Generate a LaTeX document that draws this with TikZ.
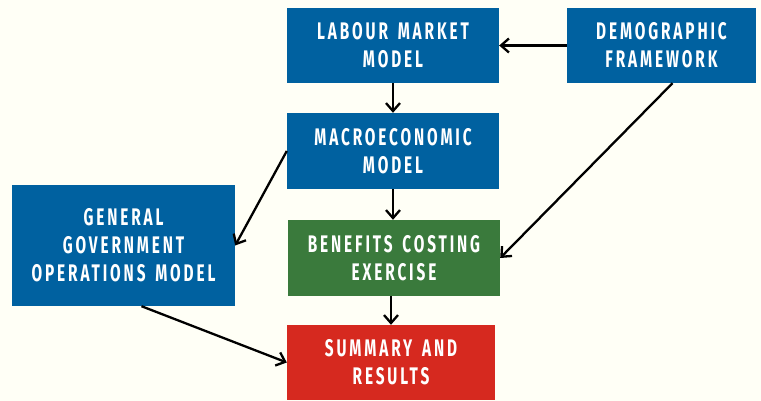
\documentclass[tikz,border=0pt]{standalone}
\usepackage{fontspec}
\usepackage{tikz}
\usetikzlibrary{arrows.meta, positioning}
\newfontfamily\boxfont[FakeStretch=0.64, LetterSpace=12, WordSpace=1.5]{Fira Sans Bold}
\definecolor{bgcream}{RGB}{255,255,246}
\definecolor{modelblue}{RGB}{0,97,160}
\definecolor{costgreen}{RGB}{58,122,60}
\definecolor{resultred}{RGB}{214,41,31}
\tikzstyle{block} = [rectangle, inner sep=0pt, text=white, align=center,
  font={\boxfont\fontsize{24}{28}\selectfont}]
\tikzstyle{link} = [draw, line width=2.3pt, -{Straight Barb[length=8pt, width=14pt, line width=2.3pt]}]

\begin{document}
\begin{tikzpicture}[x=1pt, y=-1pt]
      \fill[bgcream] (0,0) rectangle (761,401);
      \useasboundingbox (0,0) rectangle (761,401);
      \node[block, fill=modelblue, minimum width=212pt, minimum height=75pt] (L) at (393,45.5) {LABOUR MARKET\\MODEL};
      \node[block, fill=modelblue, minimum width=189pt, minimum height=75pt] (D) at (661.5,45.5) {DEMOGRAPHIC\\FRAMEWORK};
      \node[block, fill=modelblue, minimum width=212pt, minimum height=76pt] (M) at (393,151) {MACROECONOMIC\\MODEL};
      \node[block, fill=modelblue, minimum width=223pt, minimum height=121pt] (G) at (123.5,245.5) {GENERAL\\GOVERNMENT\\OPERATIONS MODEL};
      \node[block, fill=costgreen, minimum width=212pt, minimum height=76pt] (B) at (394,258) {BENEFITS COSTING\\EXERCISE};
      \node[block, fill=resultred, minimum width=208pt, minimum height=75pt] (S) at (391,362.5) {SUMMARY AND\\RESULTS};
      \draw[link] (D.west) -- (L.east);
      \draw[link] (L) -- (M);
      \draw[link] (M.west) -- (G.east);
      \draw[link] (M.south) -- (M.south |- B.north);
      \draw[link] ([xshift=11pt]D.south) -- (B.east);
      \draw[link] (B.south -| S.north) -- (S.north);
      \draw[link] ([xshift=18pt]G.south) -- (S.west);
    \end{tikzpicture}
\end{document}
